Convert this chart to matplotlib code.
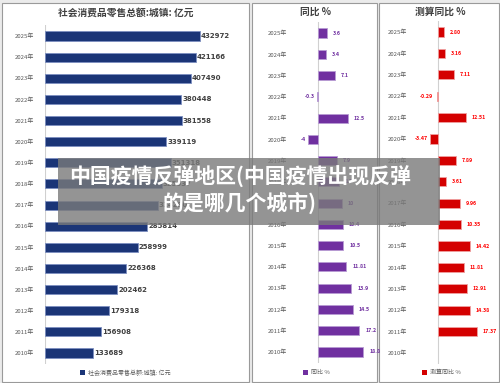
import numpy as np
import matplotlib
matplotlib.use("Agg")
import matplotlib.pyplot as plt
from matplotlib.patches import Rectangle

plt.rcParams['font.family'] = ['Noto Sans CJK SC', 'DejaVu Sans']

# data
years = ['2025年', '2024年', '2023年', '2022年', '2021年', '2020年', '2019年', '2018年',
         '2017年', '2016年', '2015年', '2014年', '2013年', '2012年', '2011年', '2010年']
retail = [432972, 421166, 407490, 380448, 381558, 339119, 351318, 325637,
          314290, 285814, 258999, 226368, 202462, 179318, 156908, 133689]
yoy = [3.6, 3.4, 7.1, -0.3, 12.5, -4, 7.9, 8.8,
       10, 10.4, 10.5, 11.81, 13.9, 14.5, 17.2, 18.8]
yoy_calc = [2.80, 3.16, 7.11, -0.29, 12.51, -3.47, 7.89, 3.61,
            9.96, 10.35, 14.42, 11.81, 12.91, 14.38, 17.37, np.nan]
yoy_calc_txt = ['2.80', '3.16', '7.11', '-0.29', '12.51', '-3.47', '7.89', '3.61',
                '9.96', '10.35', '14.42', '11.81', '12.91', '14.38', '17.37', '']

titles = ['社会消费品零售总额:城镇: 亿元', '同比 %', '测算同比 %']
watermark = '中国疫情反弹地区(中国疫情出现反弹\n的是哪几个城市)'

W, H = 500, 383


def box(x0, y0, x1, y1):
    # pixel box (top-left origin) -> figure coords
    return [x0 / W, 1 - y1 / H, (x1 - x0) / W, (y1 - y0) / H]


fig = plt.figure(figsize=(5, 3.83), dpi=100)
fig.patch.set_facecolor('#ebebeb')

# panel frames
for x0, x1 in [(2, 249), (252, 377), (379, 499)]:
    fig.add_artist(Rectangle((x0 / W, 1 / H), (x1 - x0) / W, 379 / H,
                             transform=fig.transFigure, facecolor='white',
                             edgecolor='#9a9a9a', linewidth=0.8, zorder=0))

n = len(years)
pos = np.arange(n)


def setup(ax, xlim):
    ax.set_xlim(*xlim)
    ax.set_ylim(n - 0.5, -0.5)
    ax.set_facecolor('none')
    for s in ['top', 'right', 'bottom', 'left']:
        ax.spines[s].set_visible(False)
    ax.set_xticks([])
    ax.axvline(0, color='#d0d0d0', linewidth=0.8, zorder=1)


def legend_item(x, label, color):
    fig.add_artist(Rectangle(((x) / W, 1 - 375 / H), 5 / W, 5 / H,
                             transform=fig.transFigure, facecolor=color,
                             edgecolor='none'))
    fig.text((x + 8) / W, 1 - 372.5 / H, label, ha='left', va='center',
             fontsize=4.3, color='#595959')


# panel 1: retail totals
ax1 = fig.add_axes(box(45, 36 - 10.6, 245, 353 + 10.6))
setup(ax1, (0, 432972 * 200 / 155))
ax1.barh(pos, retail, height=0.43, color='#1b3577', edgecolor='#7d8fc0', linewidth=0.6, zorder=2)
ax1.set_yticks(pos)
ax1.set_yticklabels(years, fontsize=4.3, color='#595959')
ax1.tick_params(axis='y', length=0, pad=8)
for p, v in zip(pos, retail):
    ax1.text(v + 3000, p, str(v), va='center', ha='left', fontsize=5,
             fontweight='bold', color='#404040', family='DejaVu Sans')
fig.text(126 / W, 1 - 13 / H, titles[0], ha='center', va='center', fontsize=7,
         fontweight='bold', color='#404040')
legend_item(80, titles[0], '#1b3577')

# panel 2: yoy
ax2 = fig.add_axes(box(298, 33 - 10.6, 375, 352 + 10.6))
setup(ax2, ((298 - 318) / 2.4, (375 - 318) / 2.4))
ax2.barh(pos, yoy, height=0.43, color='#7030a0', edgecolor='#b79bd3', linewidth=0.6, zorder=2)
ax2.set_yticks(pos)
ax2.set_yticklabels(years, fontsize=4.3, color='#595959')
ax2.tick_params(axis='y', length=0, pad=8)
for p, v in zip(pos, yoy):
    if v < 0:
        ax2.text(v - 1.2, p, f'{v:g}', va='center', ha='right', fontsize=3.8,
                 fontweight='bold', color='#7030a0', clip_on=False)
    else:
        ax2.text(v + 2.5, p, f'{v:g}', va='center', ha='left', fontsize=3.8,
                 fontweight='bold', color='#7030a0', clip_on=False)
fig.text(315 / W, 1 - 12 / H, titles[1], ha='center', va='center', fontsize=7,
         fontweight='bold', color='#404040')
legend_item(303, titles[1], '#7030a0')

# panel 3: calculated yoy
ax3 = fig.add_axes(box(418, 32 - 10.7, 495, 353 + 10.7))
setup(ax3, ((418 - 438) / 2.24, (495 - 438) / 2.24))
ax3.barh(pos, yoy_calc, height=0.43, color='#d40000', edgecolor='#f0a0a0', linewidth=0.6, zorder=2)
ax3.set_yticks(pos)
ax3.set_yticklabels(years, fontsize=4.3, color='#595959')
ax3.tick_params(axis='y', length=0, pad=8)
for p, v, t in zip(pos, yoy_calc, yoy_calc_txt):
    if not t:
        continue
    if v < -1:
        ax3.text(v - 1.2, p, t, va='center', ha='right', fontsize=3.8,
                 fontweight='bold', color='#ff0000', clip_on=False)
    elif v < 0:
        ax3.text(-2.5, p, t, va='center', ha='right', fontsize=3.8,
                 fontweight='bold', color='#ff0000', clip_on=False)
    else:
        ax3.text(v + 2.5, p, t, va='center', ha='left', fontsize=3.8,
                 fontweight='bold', color='#ff0000', clip_on=False)
fig.text(440 / W, 1 - 12 / H, titles[2], ha='center', va='center', fontsize=7,
         fontweight='bold', color='#404040')
legend_item(422, titles[2], '#d40000')

# watermark band
fig.add_artist(Rectangle((58 / W, 1 - 225 / H), (440 - 58) / W, (225 - 158) / H,
                         transform=fig.transFigure, facecolor='#7a7a7a', alpha=0.8,
                         edgecolor='none', zorder=10))
fig.text(240 / W, 1 - 190 / H, watermark, ha='center', va='center', fontsize=15,
         fontweight='bold', color='white', linespacing=1.2, zorder=11)

fig.savefig('out.png', dpi=100, facecolor=fig.get_facecolor())
